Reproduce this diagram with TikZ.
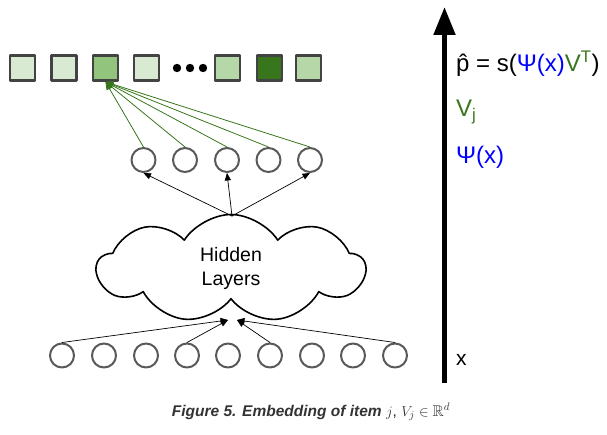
\documentclass[tikz,border=0pt]{standalone}
\usepackage{amsmath}
\usepackage{amssymb}
\usepackage{fontspec}
\setmainfont{Liberation Sans}
\usepackage{tikz}
\usetikzlibrary{arrows}
\usetikzlibrary{arrows.meta}
\usetikzlibrary{shapes.symbols}
\definecolor{boxline}{HTML}{434343}
\definecolor{ringline}{HTML}{595959}
\definecolor{paleg}{HTML}{D9EAD3}
\definecolor{lightg}{HTML}{B6D7A8}
\definecolor{midg}{HTML}{93C47D}
\definecolor{darkg}{HTML}{38761D}
\definecolor{psiblue}{HTML}{0000FF}
\definecolor{capgray}{HTML}{333333}
\tikzset{
  itembox/.style={draw=boxline,line width=2.8pt,minimum size=25pt,inner sep=0pt},
  unit/.style={circle,draw=ringline,line width=2pt,minimum size=24pt,inner sep=0pt},
  embline/.style={->,color=darkg,line width=0.8pt},
  feed/.style={->,line width=0.7pt},
  sidetxt/.style={anchor=west,font=\sidefont,inner sep=0pt}
}
\newcommand{\bigtxt}{\fontsize{19.5}{23.5}\selectfont}
\newcommand{\sidefont}{\fontsize{24}{28}\selectfont}

\begin{document}
\begin{tikzpicture}[line cap=round,line join=round,>=triangle 45,x=1pt,y=-1pt]
\useasboundingbox (0,0) rectangle (607,435);
% item embeddings
\node [itembox,fill=paleg] (s1) at (22.5,68) {};
\node [itembox,fill=paleg] (s2) at (64,68) {};
\node [itembox,fill=midg] (s3) at (105.5,68) {};
\node [itembox,fill=paleg] (s4) at (146.5,68) {};
\node [itembox,fill=lightg] (s5) at (227.5,68) {};
\node [itembox,fill=darkg] (s6) at (269.5,68) {};
\node [itembox,fill=lightg] (s7) at (308.5,68) {};
\foreach \i/\px in {1/177,2/190,3/203}
  \fill (\px,68) circle (4.2pt);
% output layer
\foreach \i/\px in {1/143.5,2/185,3/227,4/268.5,5/310}
  \node [unit] (h\i) at (\px,160) {};
\foreach \i in {1,...,5}
  \draw [embline] (h\i.north) -- (s3.south);
% hidden layers
\node [cloud,draw,line width=1.6pt,cloud puffs=9,cloud puff arc=115,aspect=2.5,
       minimum width=268pt,minimum height=108pt,align=center,font=\bigtxt] (hid) at (231,268.5) {Hidden\\Layers};
\coordinate (ctop) at (232,216);
\coordinate (cbl) at (228,320);
\coordinate (cbr) at (237,320);
\foreach \i in {1,3,5}
  \draw [feed] (ctop) -- (h\i.south);
% input layer
\foreach \i/\px in {1/62,2/104,3/146,4/187,5/228,6/270,7/312,8/353,9/395}
  \node [unit] (x\i) at (\px,355.5) {};
\foreach \i in {1,4}
  \draw [feed] (x\i.north) -- (cbl);
\foreach \i in {6,9}
  \draw [feed] (x\i.north) -- (cbr);
% right axis
\coordinate (abot) at (444.5,383);
\coordinate (atop) at (444.5,7);
\draw [line width=5pt,line cap=butt,-{Triangle[width=21pt,length=28pt]}] (abot) -- (atop);
\node [sidetxt] (phat) at (456,64) {\^{p} = s({\color{psiblue}Ψ(x)}{\color{darkg}V\textsuperscript{T}})};
\node [sidetxt,color=darkg] (vj) at (456,112) {V\textsubscript{j}};
\node [sidetxt,color=psiblue] (psi) at (456,157) {Ψ(x)};
\node [sidetxt,font=\fontsize{21}{25}\selectfont] (xin) at (456,360) {x};
% caption
\node [font=\fontsize{15.5}{18}\selectfont\bfseries\itshape,color=capgray,inner sep=0pt] (cap) at (311,412)
  {Figure 5. Embedding of item \mdseries\upshape $j$, $V_j \in \mathbb{R}^d$};
\end{tikzpicture}
\end{document}
